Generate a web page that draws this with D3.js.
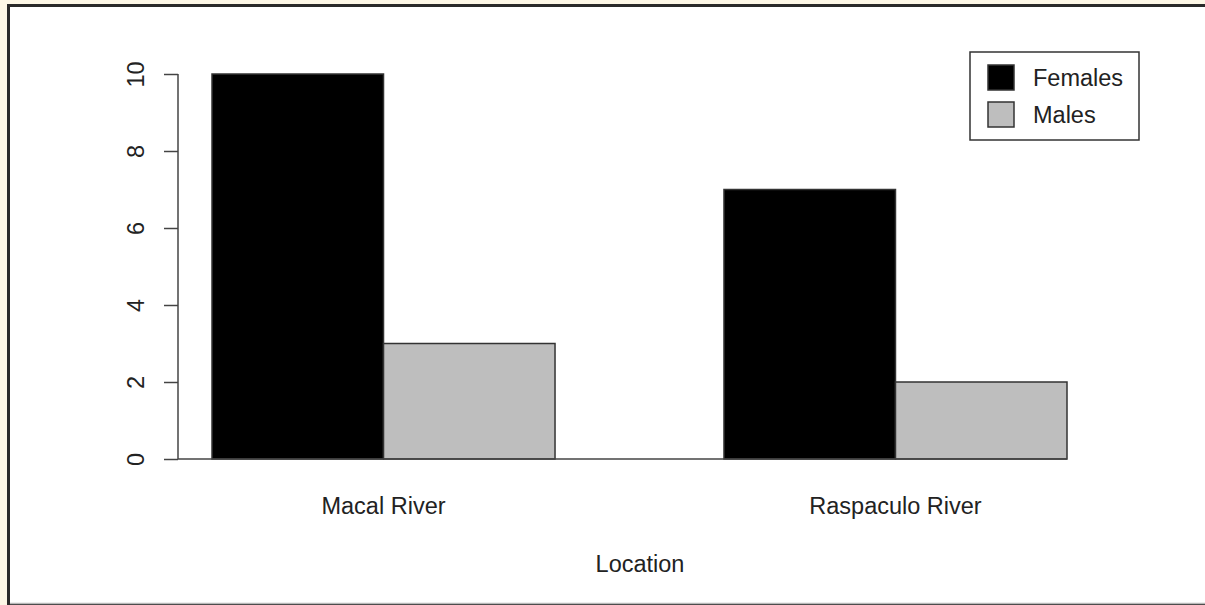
<!DOCTYPE html>
<html>
<head>
<meta charset="utf-8">
<script src="https://cdn.jsdelivr.net/npm/d3@7"></script>
<style>
  html, body { margin: 0; padding: 0; background: #fdf7e6; }
  svg { display: block; }
  text { font-family: "Liberation Sans", Arial, Helvetica, sans-serif; fill: #222; }
</style>
</head>
<body>
<div id="vis"></div>
<script>
// data
const LOCATIONS = ["Macal River", "Raspaculo River"];
const SERIES = ["Females", "Males"];
const FEMALES = [10, 7];
const MALES = [3, 2];
const Y_TICKS = [0, 2, 4, 6, 8, 10];
const X_LABEL = "Location";

const COLORS = {Females: "#000000", Males: "#bebebe"};

const FRAME_WIDTH = 1205;
const FRAME_HEIGHT = 605;

const FRAME = d3.select("#vis")
  .append("svg")
    .attr("width", FRAME_WIDTH)
    .attr("height", FRAME_HEIGHT);

// outer panel: cream page, dark edge top and left, gray line bottom
FRAME.append("rect")
  .attr("x", 0).attr("y", 0)
  .attr("width", FRAME_WIDTH).attr("height", FRAME_HEIGHT)
  .attr("fill", "#fdf7e6");
FRAME.append("rect")
  .attr("x", 7).attr("y", 4)
  .attr("width", FRAME_WIDTH - 7).attr("height", FRAME_HEIGHT - 4)
  .attr("fill", "#2a2a2a");
FRAME.append("rect")
  .attr("x", 10).attr("y", 7)
  .attr("width", FRAME_WIDTH - 10).attr("height", FRAME_HEIGHT - 9)
  .attr("fill", "#ffffff");
FRAME.append("line")
  .attr("x1", 10).attr("x2", FRAME_WIDTH)
  .attr("y1", 603.5).attr("y2", 603.5)
  .attr("stroke", "#b8b8b8").attr("stroke-width", 1.5);

const AXIS_X = 178;
const PLOT = {left: 212, right: 1067, top: 74, bottom: 459};

const rows = LOCATIONS.map((loc, i) => {
  return {location: loc, Females: FEMALES[i], Males: MALES[i]};
});

const X_SCALE = d3.scaleBand()
  .domain(LOCATIONS)
  .range([PLOT.left, PLOT.right])
  .paddingInner(0.33)
  .paddingOuter(0);

const X_INNER = d3.scaleBand()
  .domain(SERIES)
  .range([0, X_SCALE.bandwidth()]);

const Y_SCALE = d3.scaleLinear()
  .domain([0, 10])
  .range([PLOT.bottom, PLOT.top]);

// bars
const groups = FRAME.selectAll(".group")
  .data(rows)
  .enter()
  .append("g")
    .attr("class", "group")
    .attr("transform", (d) => "translate(" + X_SCALE(d.location) + ",0)");

groups.selectAll("rect")
  .data((d) => SERIES.map((s) => ({series: s, value: d[s]})))
  .enter()
  .append("rect")
    .attr("x", (d) => X_INNER(d.series))
    .attr("y", (d) => Y_SCALE(d.value))
    .attr("width", X_INNER.bandwidth())
    .attr("height", (d) => Y_SCALE(0) - Y_SCALE(d.value))
    .attr("fill", (d) => COLORS[d.series])
    .attr("stroke", "#333")
    .attr("stroke-width", 1.5);

// baseline under the bars
FRAME.append("line")
  .attr("x1", AXIS_X).attr("x2", PLOT.right)
  .attr("y1", Y_SCALE(0)).attr("y2", Y_SCALE(0))
  .attr("stroke", "#444").attr("stroke-width", 1.5);

// y axis, R style with rotated labels
const yAxis = FRAME.append("g")
  .attr("transform", "translate(" + AXIS_X + ",0)")
  .call(d3.axisLeft(Y_SCALE).tickValues(Y_TICKS).tickSize(14).tickSizeOuter(0).tickFormat(d3.format("d")));

yAxis.select(".domain")
  .attr("stroke", "#444").attr("stroke-width", 1.5)
  .attr("d", "M0," + Y_SCALE(10) + "V" + Y_SCALE(0));
yAxis.selectAll(".tick line").attr("stroke", "#444").attr("stroke-width", 1.5);
yAxis.selectAll(".tick text")
  .attr("x", 0).attr("y", 0).attr("dy", null)
  .attr("transform", "translate(-34,0) rotate(-90)")
  .attr("text-anchor", "middle")
  .attr("font-size", "23.5px")
  .attr("fill", "#222")
  .style("font-family", "'Liberation Sans', Arial, sans-serif");

// category labels
FRAME.selectAll(".cat")
  .data(LOCATIONS)
  .enter()
  .append("text")
    .attr("class", "cat")
    .attr("x", (d) => X_SCALE(d) + X_SCALE.bandwidth() / 2)
    .attr("y", 514)
    .attr("text-anchor", "middle")
    .attr("font-size", "23.5px")
    .text((d) => d);

FRAME.append("text")
  .attr("x", 640)
  .attr("y", 572)
  .attr("text-anchor", "middle")
  .attr("font-size", "23.5px")
  .text(X_LABEL);

// legend
const legend = FRAME.append("g").attr("transform", "translate(970,52)");
legend.append("rect")
  .attr("x", 0).attr("y", 0)
  .attr("width", 169).attr("height", 88)
  .attr("fill", "#fff")
  .attr("stroke", "#333").attr("stroke-width", 1.5);

const items = legend.selectAll(".item")
  .data(SERIES)
  .enter()
  .append("g")
    .attr("class", "item")
    .attr("transform", (d, i) => "translate(0," + (i * 37) + ")");

items.append("rect")
  .attr("x", 18).attr("y", 13)
  .attr("width", 26).attr("height", 25)
  .attr("fill", (d) => COLORS[d])
  .attr("stroke", "#333").attr("stroke-width", 1.5);

items.append("text")
  .attr("x", 63).attr("y", 34)
  .attr("font-size", "23.5px")
  .text((d) => d);
</script>
</body>
</html>
